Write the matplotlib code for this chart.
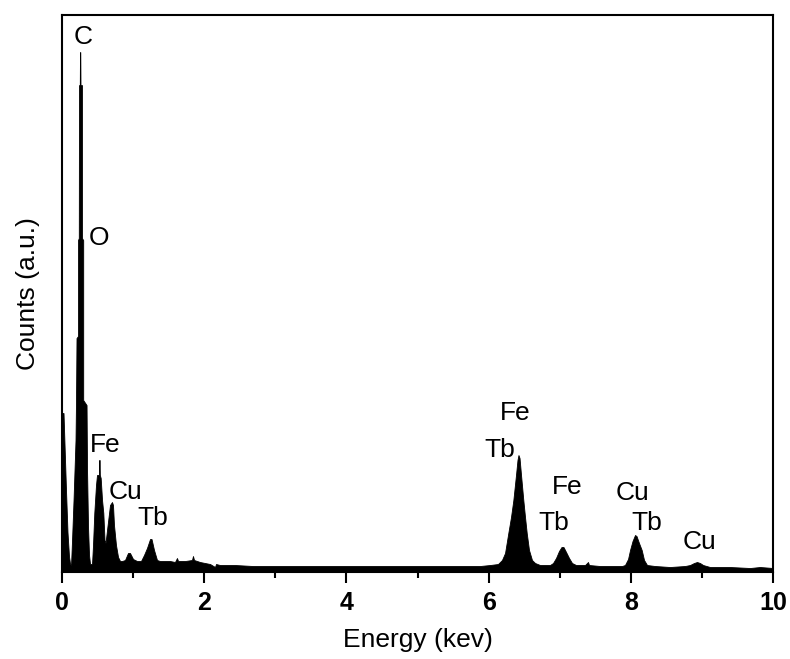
import numpy as np
import matplotlib.pyplot as plt

plt.rcParams['font.family'] = ['Liberation Sans', 'DejaVu Sans']

# EDS spectrum outline (energy in keV, counts in a.u.)
energy = [
    0.000, 0.007, 0.021, 0.035, 0.056, 0.077, 0.098, 0.113, 0.127,
    0.141, 0.162, 0.190, 0.197, 0.204, 0.225, 0.225, 0.236, 0.239, 0.250,
    0.253, 0.257, 0.260, 0.281, 0.281, 0.298, 0.298, 0.345, 0.352, 0.366,
    0.380, 0.394,
    0.422, 0.436, 0.454, 0.478, 0.492, 0.520, 0.523, 0.529, 0.532, 0.544,
    0.563, 0.581, 0.598, 0.612,
    0.633, 0.675, 0.703, 0.717, 0.731, 0.759, 0.788, 0.816, 0.844,
    0.886, 0.928, 0.956, 0.999, 1.055, 1.111,
    1.153, 1.195, 1.238, 1.259, 1.294, 1.336, 1.378,
    1.449, 1.519, 1.589, 1.617, 1.632, 1.730, 1.828, 1.842, 1.857, 1.941,
    2.011, 2.082, 2.152, 2.166, 2.222, 2.433, 2.686, 3.094, 3.347, 4.754,
    5.879, 6.020,
    6.132, 6.188, 6.231, 6.277, 6.315, 6.348, 6.385, 6.406, 6.420, 6.435,
    6.456, 6.488, 6.512, 6.536, 6.568, 6.610, 6.653, 6.723, 6.835,
    6.864, 6.906, 6.948, 6.990, 7.025, 7.053, 7.089, 7.131, 7.173, 7.229,
    7.356, 7.398, 7.412, 7.567, 7.848,
    7.876, 7.918, 7.961, 7.989, 8.024, 8.059, 8.080, 8.115, 8.153, 8.186,
    8.228, 8.340, 8.551, 8.762, 8.833, 8.889, 8.931, 8.973, 9.016, 9.114,
    9.395, 9.677, 9.817, 10.000,
]
counts = [
    150, 159, 159, 128, 82, 40, 16, 8, 7,
    32, 72, 132, 172, 234, 236, 332, 334, 487, 487,
    520, 520, 487, 487, 334, 332, 172, 167, 102, 45,
    17, 8,
    8, 27, 59, 87, 97, 97, 112, 112, 97, 94,
    72, 59, 32, 29,
    42, 67, 70, 67, 47, 27, 15, 11, 11,
    12, 19, 19, 13, 11, 11,
    17, 24, 33, 33, 22, 12, 11,
    11, 11, 10, 14, 11, 11, 12, 16, 12, 10,
    9, 8, 5, 8, 7, 7, 6, 6, 6, 6,
    6, 7,
    8, 12, 19, 39, 55, 72, 97, 112, 117, 114,
    97, 72, 55, 39, 22, 12, 9, 7, 7,
    7, 9, 14, 21, 25, 25, 20, 14, 9, 7,
    7, 10, 7, 6, 6,
    6, 7, 13, 22, 31, 37, 36, 29, 22, 12,
    7, 6, 5, 6, 7, 9, 10, 9, 7, 5,
    5, 4, 5, 4,
]

# Peak labels (text, energy, counts)
peak_labels = ['C', 'O', 'Fe', 'Cu', 'Tb', 'Fe', 'Tb', 'Fe', 'Tb', 'Cu', 'Tb', 'Cu']
label_x = [0.295, 0.52, 0.605, 0.886, 1.28, 6.37, 6.16, 7.10, 6.92, 8.03, 8.23, 8.97]
label_y = [535, 334, 127, 80, 54, 159, 122, 85, 49, 79, 49, 30]

xticks = [0, 2, 4, 6, 8, 10]

fig = plt.figure(figsize=(7.9, 6.59), dpi=100)
ax = fig.add_axes([0.0785, 0.132, 0.9, 0.845])

ax.fill_between(energy, counts, 0, color='black', linewidth=0.6)

for txt, x, y in zip(peak_labels, label_x, label_y):
    ax.text(x, y, txt, ha='center', va='center', fontsize=19)

ax.set_xlim(0, 10)
ax.set_ylim(0, 557)
ax.set_xticks(xticks)
ax.set_xticks([1, 3, 5, 7, 9], minor=True)
ax.set_xticklabels([str(t) for t in xticks], fontsize=18, fontweight='bold')
ax.set_yticks([])
ax.tick_params(axis='x', which='major', direction='out', length=8, width=1.5, pad=6)
ax.tick_params(axis='x', which='minor', direction='out', length=4, width=1.5)

for side in ['left', 'right', 'top', 'bottom']:
    ax.spines[side].set_linewidth(1.5)

ax.set_xlabel('Energy (kev)', fontsize=19, labelpad=9)
ax.set_ylabel('Counts (a.u.)', fontsize=19, labelpad=16)

fig.savefig('out.png', dpi=100)
